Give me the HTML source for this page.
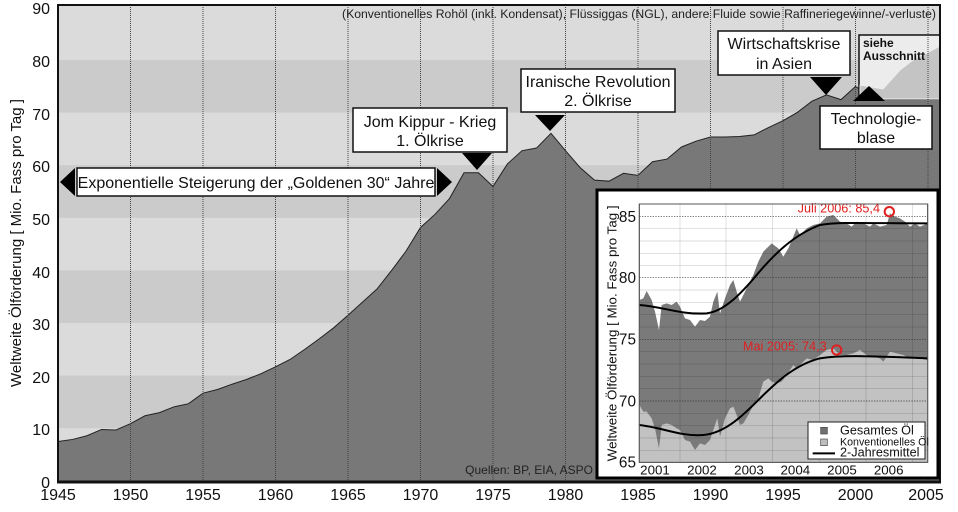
<!DOCTYPE html>
<html><head><meta charset="utf-8"><style>
html,body{margin:0;padding:0;background:#fff;}
svg{display:block;font-family:"Liberation Sans",sans-serif;}
</style></head><body>
<svg width="958" height="512" viewBox="0 0 958 512" xmlns="http://www.w3.org/2000/svg">
<rect x="58" y="5" width="882" height="477" fill="#dbdbdb"/>
<g fill="#cbcbcb">
<rect x="58" y="60" width="882" height="52.6"/>
<rect x="58" y="165.2" width="882" height="52.6"/>
<rect x="58" y="270.4" width="882" height="52.6"/>
<rect x="58" y="375.6" width="882" height="52.6"/>
</g>
<polygon fill="#787878" stroke="#222" stroke-width="1" vector-effect="non-scaling-stroke" transform="matrix(14.5 0 0 -5.26 -28144.5 481)"
points="1945,7.5 1946,7.9 1947,8.6 1948,9.8 1949,9.7 1950,10.9 1951,12.4 1952,13 1953,14.1 1954,14.7 1955,16.7 1956,17.4 1957,18.4 1958,19.3 1959,20.4 1960,21.7 1961,23.1 1962,25 1963,27 1964,29.1 1965,31.5 1966,34 1967,36.5 1968,40 1969,43.7 1970,48.2 1971,50.7 1972,53.7 1973,58.6 1974,58.6 1975,56 1976,60.3 1977,62.8 1978,63.3 1979,66.1 1980,62.8 1981,59.6 1982,57.2 1983,57 1984,58.5 1985,58.1 1986,60.7 1987,61.2 1988,63.5 1989,64.6 1990,65.4 1991,65.4 1992,65.5 1993,65.8 1994,67.2 1995,68.5 1996,70.1 1997,72.2 1998,73.4 1999,72.5 2000,75 2000.24,74.6 2000.24,72.6 2005.83,72.6 2005.83,0 1945,0"/>
<rect x="859" y="35" width="81" height="64" fill="#ececec" stroke="#111" stroke-width="1.5"/>
<polygon points="860,85 883,89 900,70 913,60 940,46 940,99 860,99" fill="#c4c4c4" stroke="#eee" stroke-width="1"/>
<text x="863" y="47" font-size="12" font-weight="bold" fill="#111">siehe</text>
<text x="863" y="60" font-size="12" font-weight="bold" fill="#111">Ausschnitt</text>
<g stroke="#444" stroke-width="1" stroke-dasharray="1,1">
<line x1="130.5" y1="5" x2="130.5" y2="482"/><line x1="203" y1="5" x2="203" y2="482"/><line x1="275.5" y1="5" x2="275.5" y2="482"/><line x1="348" y1="5" x2="348" y2="482"/><line x1="420.5" y1="5" x2="420.5" y2="482"/><line x1="493" y1="5" x2="493" y2="482"/><line x1="565.5" y1="5" x2="565.5" y2="482"/><line x1="638" y1="5" x2="638" y2="482"/><line x1="710.5" y1="5" x2="710.5" y2="482"/><line x1="783" y1="5" x2="783" y2="482"/><line x1="855.5" y1="5" x2="855.5" y2="482"/><line x1="928" y1="5" x2="928" y2="482"/>
</g>
<rect x="58" y="5" width="882" height="477" fill="none" stroke="#111" stroke-width="2"/>
<line x1="57" y1="482" x2="941" y2="482" stroke="#111" stroke-width="3"/>
<text x="936" y="18" font-size="12.4" text-anchor="end" fill="#222" textLength="594" lengthAdjust="spacingAndGlyphs">(Konventionelles Rohöl (inkl. Kondensat), Flüssiggas (NGL), andere Fluide sowie Raffineriegewinne/-verluste)</text>
<text x="593" y="474" font-size="12" text-anchor="end" fill="#222">Quellen: BP, EIA, ASPO</text>
<g stroke="#111" stroke-width="1.5" fill="#fff">
<rect x="77" y="168" width="358" height="28"/>
<rect x="353" y="108" width="154" height="44"/>
<rect x="521" y="69" width="154" height="43"/>
<rect x="718" y="31" width="132" height="44"/>
<rect x="820" y="106" width="112" height="43"/>
</g>
<g fill="#000">
<polygon points="60,182 75,168 75,196"/>
<polygon points="452,182 437,168 437,196"/>
<polygon points="462,153 492,153 477,170"/>
<polygon points="535,115 565,115 550,131"/>
<polygon points="810,77 842,77 826,95"/>
<polygon points="853,101 885,101 869,86"/>
</g>
<g font-size="16" fill="#111" text-anchor="middle">
<text x="256" y="188">Exponentielle Steigerung der „Goldenen 30“ Jahre</text>
<text x="430" y="127">Jom Kippur - Krieg</text><text x="430" y="146">1. Ölkrise</text>
<text x="598" y="87">Iranische Revolution</text><text x="598" y="106">2. Ölkrise</text>
<text x="784" y="49">Wirtschaftskrise</text><text x="784" y="69">in Asien</text>
<text x="876" y="124">Technologie-</text><text x="876" y="143">blase</text>
</g>
<g font-size="16" fill="#111" text-anchor="end">
<text x="50" y="14">90</text><text x="50" y="67">80</text><text x="50" y="120">70</text><text x="50" y="172">60</text><text x="50" y="225">50</text><text x="50" y="278">40</text><text x="50" y="330">30</text><text x="50" y="383">20</text><text x="50" y="435">10</text><text x="50" y="488">0</text>
</g>
<text transform="translate(21,243) rotate(-90)" font-size="15" text-anchor="middle" fill="#111">Weltweite Ölförderung [ Mio. Fass pro Tag ]</text>
<g font-size="16" fill="#111" text-anchor="middle">
<text x="58" y="500">1945</text><text x="130.5" y="500">1950</text><text x="203" y="500">1955</text><text x="275.5" y="500">1960</text><text x="348" y="500">1965</text><text x="420.5" y="500">1970</text><text x="493" y="500">1975</text><text x="565.5" y="500">1980</text><text x="638" y="500">1985</text><text x="710.5" y="500">1990</text><text x="783" y="500">1995</text><text x="855.5" y="500">2000</text><text x="926" y="500">2005</text>
</g>
<rect x="597" y="190" width="341" height="288" fill="#fff" stroke="#000" stroke-width="3"/>
<g transform="translate(580,185) scale(0.33333)">
<rect x="178" y="57" width="865" height="775" fill="#fff" stroke="#555" stroke-width="3"/>
<polygon fill="#7a7a7a" points="178,345 190,340 200,318 215,345 225,380 237,435 245,360 260,355 275,360 290,350 300,365 315,400 330,405 345,425 360,405 375,408 390,395 400,350 412,320 420,385 435,340 450,300 460,285 470,320 480,350 490,330 505,300 520,270 535,230 550,200 575,175 595,190 610,215 625,190 640,155 650,130 660,150 680,130 700,120 720,115 740,95 760,90 780,110 800,115 815,125 830,110 850,115 870,125 880,115 900,125 920,120 930,85 945,95 960,100 975,110 990,125 1005,115 1020,125 1043,115 1043,832 178,832"/>
<polygon fill="#c2c2c2" points="178,660 190,680 200,680 215,700 225,730 237,790 245,720 260,715 275,720 290,730 300,735 315,765 330,770 345,795 360,775 375,780 390,765 400,735 412,700 420,755 435,700 450,670 460,665 470,690 480,720 490,715 505,690 520,660 535,640 550,590 565,580 575,590 590,595 605,590 620,570 640,540 650,550 665,535 680,520 700,525 720,510 740,495 760,490 780,510 800,510 820,505 840,495 860,510 880,515 900,520 910,530 930,500 950,505 970,510 990,520 1005,515 1020,520 1043,525 1043,832 178,832"/>
<g stroke="#000" stroke-opacity="0.18" stroke-width="2">
<line x1="178" y1="131" x2="1043" y2="131"/><line x1="178" y1="168" x2="1043" y2="168"/><line x1="178" y1="205" x2="1043" y2="205"/><line x1="178" y1="241" x2="1043" y2="241"/>
<line x1="178" y1="315" x2="1043" y2="315"/><line x1="178" y1="352" x2="1043" y2="352"/><line x1="178" y1="389" x2="1043" y2="389"/><line x1="178" y1="426" x2="1043" y2="426"/>
<line x1="178" y1="500" x2="1043" y2="500"/><line x1="178" y1="537" x2="1043" y2="537"/><line x1="178" y1="574" x2="1043" y2="574"/><line x1="178" y1="611" x2="1043" y2="611"/>
<line x1="178" y1="685" x2="1043" y2="685"/><line x1="178" y1="722" x2="1043" y2="722"/><line x1="178" y1="759" x2="1043" y2="759"/><line x1="178" y1="796" x2="1043" y2="796"/>
<line x1="300" y1="57" x2="300" y2="832"/><line x1="438" y1="57" x2="438" y2="832"/><line x1="578" y1="57" x2="578" y2="832"/><line x1="718" y1="57" x2="718" y2="832"/><line x1="858" y1="57" x2="858" y2="832"/><line x1="998" y1="57" x2="998" y2="832"/>
</g>
<g stroke="#333" stroke-width="2" stroke-dasharray="4,4">
<line x1="178" y1="95" x2="1043" y2="95"/><line x1="178" y1="278" x2="1043" y2="278"/><line x1="178" y1="463" x2="1043" y2="463"/><line x1="178" y1="648" x2="1043" y2="648"/>
</g>
<path d="M178,360 C250,365 300,390 380,385 C430,380 480,330 530,270 C580,210 640,150 720,120 C780,110 850,115 1043,115" fill="none" stroke="#000" stroke-width="6"/>
<path d="M178,720 C250,728 300,755 370,750 C430,745 480,700 530,650 C580,600 640,540 720,520 C780,510 850,512 1043,520" fill="none" stroke="#000" stroke-width="6"/>
<circle cx="928" cy="80" r="14" fill="none" stroke="#e02020" stroke-width="6"/>
<circle cx="770" cy="495" r="14" fill="none" stroke="#e02020" stroke-width="6"/>
<text x="900" y="82" font-size="38" fill="#e02020" text-anchor="end">Juli 2006: 85,4</text>
<text x="740" y="497" font-size="38" fill="#e02020" text-anchor="end">Mai 2005: 74,3</text>
<rect x="178" y="57" width="865" height="775" fill="none" stroke="#555" stroke-width="3"/>
<g font-size="46" fill="#111" text-anchor="end">
<text x="168" y="111">85</text><text x="168" y="294">80</text><text x="168" y="479">75</text><text x="168" y="664">70</text><text x="168" y="848">65</text>
</g>
<text transform="translate(110,445) rotate(-90)" font-size="40" text-anchor="middle" fill="#111">Weltweite Ölförderung [ Mio. Fass pro Tag ]</text>
<g font-size="40" fill="#111" text-anchor="middle">
<text x="225" y="868">2001</text><text x="366" y="868">2002</text><text x="507" y="868">2003</text><text x="646" y="868">2004</text><text x="786" y="868">2005</text><text x="926" y="868">2006</text>
</g>
<rect x="684" y="711" width="351" height="111" fill="#fff" stroke="#222" stroke-width="3"/>
<rect x="722" y="727" width="20" height="20" fill="#707070" stroke="#444" stroke-width="2"/>
<rect x="722" y="762" width="20" height="20" fill="#bdbdbd" stroke="#444" stroke-width="2"/>
<line x1="698" y1="805" x2="765" y2="805" stroke="#000" stroke-width="6"/>
<text x="780" y="748" font-size="38" fill="#111">Gesamtes Öl</text>
<text x="780" y="781" font-size="32" fill="#111">Konventionelles Öl</text>
<text x="780" y="815" font-size="38" fill="#111">2-Jahresmittel</text>
</g>
</svg>
</body></html>
